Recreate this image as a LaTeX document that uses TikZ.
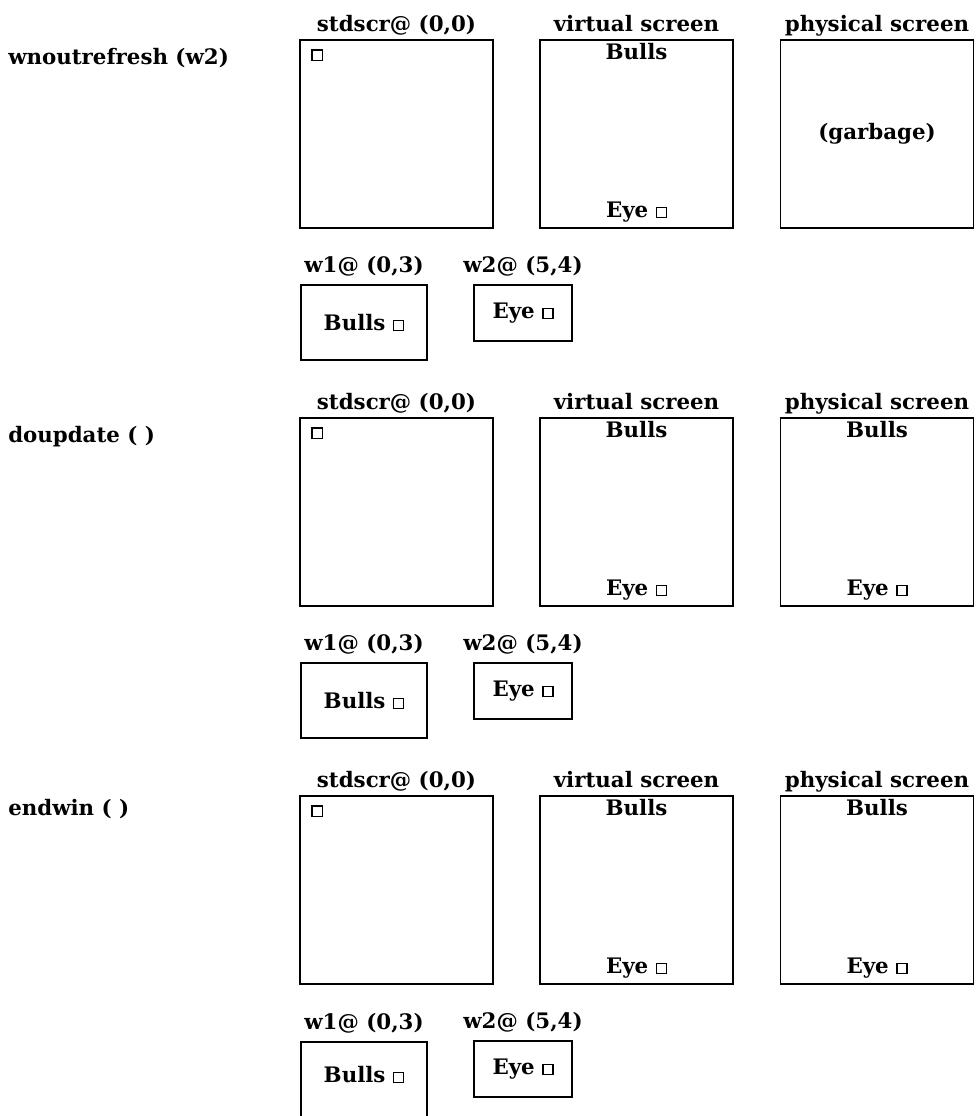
\documentclass[tikz,border=0pt]{standalone}
\usepackage{fontspec}
\setmainfont{DejaVu Serif}
\usetikzlibrary{positioning}
\newcommand\curbox{\tikz[baseline=0pt]\draw[line width=1pt] (0,0) rectangle (7.5pt,7.5pt);}

\begin{document}
\begin{tikzpicture}[x=0.75pt,y=0.75pt,
 every node/.style={font=\fontsize{16}{19}\selectfont\bfseries},
 s/.style={draw,line width=1.2pt,minimum width=144.75pt,minimum height=141pt,inner sep=0pt},
 w/.style={draw,line width=1.2pt,inner sep=0pt},
 t/.style={anchor=base,inner sep=0pt},
 k/.style={draw,line width=1pt,minimum size=8pt,inner sep=0pt,anchor=north west}]
\useasboundingbox (0,0) rectangle (977,-1116);

\node[t,anchor=base west] (cmd1) at (8,-65) {wnoutrefresh (w2)};
\node[s] (std1) at (396.5,-134) {};
\node[s] (vir1) at (636.5,-134) {};
\node[s] (phy1) at (877,-134) {(garbage)};
\node[t] (stdl1) at ([yshift=6pt]std1.north) {stdscr@ (0,0)};
\node[t] (virl1) at ([yshift=6pt]vir1.north) {virtual screen};
\node[t] (phyl1) at ([yshift=6pt]phy1.north) {physical screen};
\node[k] (cur1) at ([shift={(9pt,-7.5pt)}]std1.north west) {};
\node[t] (virb1) at ([yshift=-15pt]vir1.north) {Bulls};
\node[t] (vire1) at ([yshift=8.25pt]vir1.south) {Eye \curbox};
\node[w,minimum width=94.5pt,minimum height=56.25pt] (wa1) at (364,-322.5) {Bulls \curbox};
\node[w,minimum width=73.5pt,minimum height=42pt] (wb1) at (523,-313) {Eye \curbox};
\node[t] (wal1) at ([yshift=9pt]wa1.north) {w1@ (0,3)};
\node[t] (wbl1) at ([yshift=9pt]wb1.north) {w2@ (5,4)};

\node[t,anchor=base west] (cmd2) at (8,-442) {doupdate ( )};
\node[s] (std2) at (396.5,-512) {};
\node[s] (vir2) at (636.5,-512) {};
\node[s] (phy2) at (877,-512) {};
\node[t] (stdl2) at ([yshift=6pt]std2.north) {stdscr@ (0,0)};
\node[t] (virl2) at ([yshift=6pt]vir2.north) {virtual screen};
\node[t] (phyl2) at ([yshift=6pt]phy2.north) {physical screen};
\node[k] (cur2) at ([shift={(9pt,-7.5pt)}]std2.north west) {};
\node[t] (virb2) at ([yshift=-15pt]vir2.north) {Bulls};
\node[t] (vire2) at ([yshift=8.25pt]vir2.south) {Eye \curbox};
\node[t] (phyb2) at ([yshift=-15pt]phy2.north) {Bulls};
\node[t] (phye2) at ([yshift=8.25pt]phy2.south) {Eye \curbox};
\node[w,minimum width=94.5pt,minimum height=56.25pt] (wa2) at (364,-700.5) {Bulls \curbox};
\node[w,minimum width=73.5pt,minimum height=42pt] (wb2) at (523,-691) {Eye \curbox};
\node[t] (wal2) at ([yshift=9pt]wa2.north) {w1@ (0,3)};
\node[t] (wbl2) at ([yshift=9pt]wb2.north) {w2@ (5,4)};

\node[t,anchor=base west] (cmd3) at (8,-815) {endwin ( )};
\node[s] (std3) at (396.5,-890) {};
\node[s] (vir3) at (636.5,-890) {};
\node[s] (phy3) at (877,-890) {};
\node[t] (stdl3) at ([yshift=6pt]std3.north) {stdscr@ (0,0)};
\node[t] (virl3) at ([yshift=6pt]vir3.north) {virtual screen};
\node[t] (phyl3) at ([yshift=6pt]phy3.north) {physical screen};
\node[k] (cur3) at ([shift={(9pt,-7.5pt)}]std3.north west) {};
\node[t] (virb3) at ([yshift=-15pt]vir3.north) {Bulls};
\node[t] (vire3) at ([yshift=8.25pt]vir3.south) {Eye \curbox};
\node[t] (phyb3) at ([yshift=-15pt]phy3.north) {Bulls};
\node[t] (phye3) at ([yshift=8.25pt]phy3.south) {Eye \curbox};
\node[w,minimum width=94.5pt,minimum height=60pt,anchor=north] (wa3) at (364,-1041) {};
\node[t] (wat3) at ([yshift=-31pt]wa3.north) {Bulls \curbox};
\node[w,minimum width=73.5pt,minimum height=42pt] (wb3) at (523,-1069) {Eye \curbox};
\node[t] (wal3) at ([yshift=9pt]wa3.north) {w1@ (0,3)};
\node[t] (wbl3) at ([yshift=9pt]wb3.north) {w2@ (5,4)};
\end{tikzpicture}
\end{document}
